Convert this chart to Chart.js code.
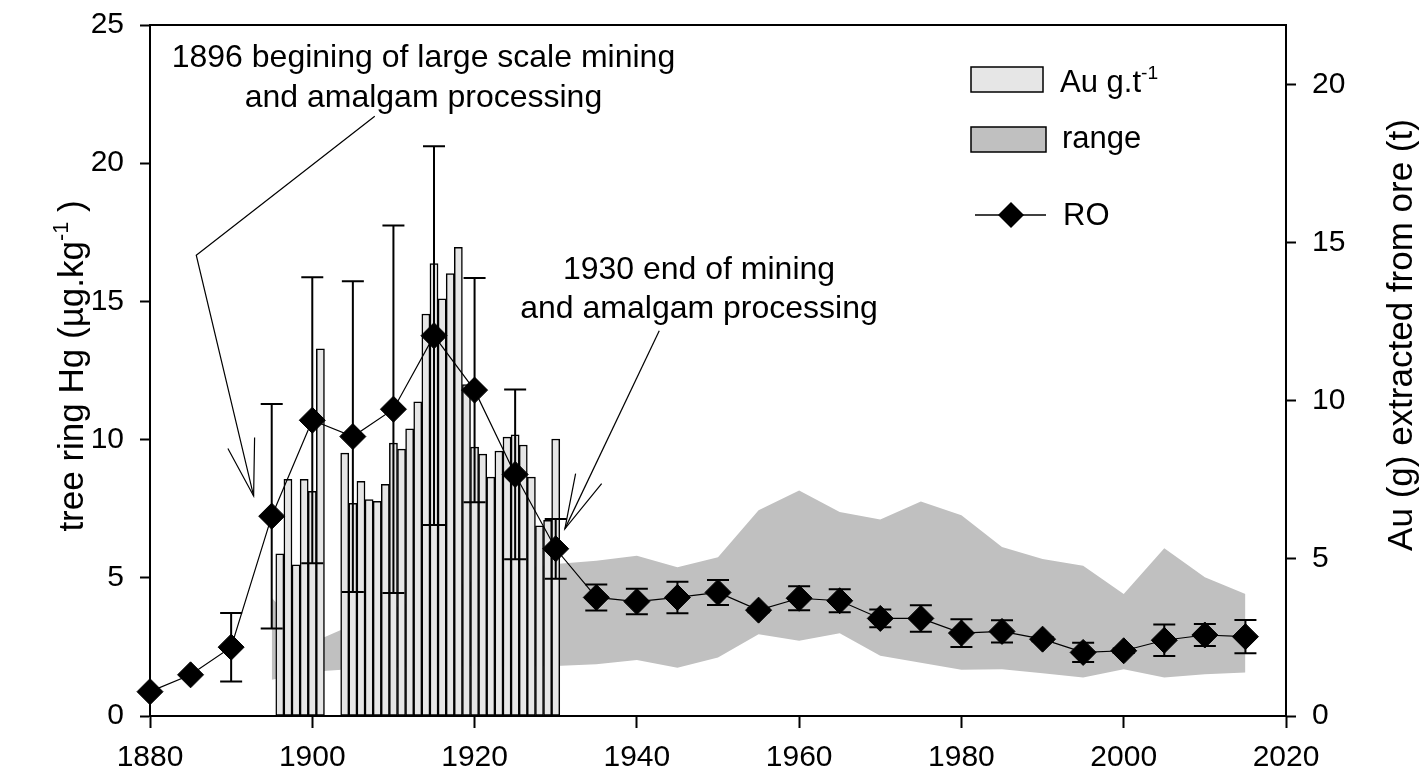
<!DOCTYPE html>
<html>
<head>
<meta charset="utf-8">
<script src="https://cdn.jsdelivr.net/npm/chart.js@4.4.1/dist/chart.umd.min.js"></script>
<style>
  html, body { margin: 0; padding: 0; background: #fff; }
  #wrap { width: 1427px; height: 777px; }
</style>
</head>
<body>
<div id="wrap"><canvas id="c"></canvas></div>
<script>
// tree ring Hg (RO), 5-year means and sd
const roYears = [1880, 1885, 1890, 1895, 1900, 1905, 1910, 1915, 1920, 1925, 1930, 1935, 1940, 1945,
  1950, 1955, 1960, 1965, 1970, 1975, 1980, 1985, 1990, 1995, 2000, 2005, 2010, 2015];
const roValues = [0.88, 1.49, 2.49, 7.23, 10.70, 10.11, 11.10, 13.76, 11.79, 8.74, 6.05, 4.29, 4.14, 4.29,
  4.47, 3.83, 4.26, 4.17, 3.53, 3.53, 3.00, 3.06, 2.78, 2.30, 2.36, 2.74, 2.93, 2.87];
const roErr = [0, 0, 1.24, 4.06, 5.17, 5.62, 6.65, 6.85, 4.06, 3.07, 1.08, 0.47, 0.46, 0.57,
  0.45, 0.08, 0.43, 0.42, 0.32, 0.48, 0.50, 0.40, 0.08, 0.35, 0.08, 0.57, 0.40, 0.60];

// Au g/t extracted from ore, yearly
const auYears = [1896, 1897, 1898, 1899, 1900, 1901, 1904, 1905, 1906, 1907, 1908, 1909, 1910, 1911,
  1912, 1913, 1914, 1915, 1916, 1917, 1918, 1919, 1920, 1921, 1922, 1923, 1924, 1925, 1926, 1927,
  1928, 1929, 1930];
const auValues = [5.14, 7.50, 4.79, 7.50, 7.12, 11.64, 8.33, 6.74, 7.44, 6.86, 6.80, 7.34, 8.65, 8.46,
  9.10, 9.96, 12.74, 14.34, 13.22, 14.02, 14.85, 10.50, 8.52, 8.30, 7.57, 8.40, 8.84, 8.91, 8.59, 7.57,
  6.03, 6.20, 8.78];

// range of tree ring Hg
const rangeYears = [1895, 1900, 1905, 1910, 1915, 1920, 1925, 1930, 1935, 1940, 1945, 1950, 1955,
  1960, 1965, 1970, 1975, 1980, 1985, 1990, 1995, 2000, 2005, 2010, 2015];
const rangeLow = [1.31, 1.60, 1.70, 1.75, 1.80, 1.80, 1.80, 1.81, 1.87, 2.03, 1.75, 2.12, 2.96,
  2.72, 2.99, 2.18, 1.93, 1.67, 1.69, 1.55, 1.39, 1.69, 1.39, 1.51, 1.57];
const rangeHigh = [4.28, 2.66, 3.30, 3.90, 4.40, 4.90, 5.30, 5.50, 5.62, 5.80, 5.38, 5.74, 7.44,
  8.16, 7.38, 7.11, 7.76, 7.26, 6.11, 5.68, 5.44, 4.41, 6.07, 5.02, 4.41];

const xTickStep = 20;
const yLeftTicks = [0, 5, 10, 15, 20, 25];
const yRightTicks = [0, 5, 10, 15, 20];

const FONT = '"Liberation Sans", Arial, sans-serif';
Chart.defaults.font.family = FONT;
Chart.defaults.color = '#000';

const pts = (xs, ys) => xs.map((x, i) => ({ x: x, y: ys[i] }));

// draws text with a raised "-1" part
function richText(ctx, parts, x, y, size, align) {
  const widths = parts.map(p => {
    ctx.font = (p.sup ? size * 0.62 : size) + 'px ' + FONT;
    return ctx.measureText(p.t).width;
  });
  const total = widths.reduce((a, b) => a + b, 0);
  let cx = align === 'center' ? x - total / 2 : x;
  ctx.textAlign = 'left';
  ctx.textBaseline = 'alphabetic';
  parts.forEach((p, i) => {
    ctx.font = (p.sup ? size * 0.62 : size) + 'px ' + FONT;
    ctx.fillText(p.t, cx, p.sup ? y - size * 0.42 : y);
    cx += widths[i];
  });
}

const errorBars = {
  id: 'errorBars',
  beforeDatasetDraw(chart, args) {
    if (args.index !== 3) return;
    const xs = chart.scales.x, ys = chart.scales.y, ctx = chart.ctx;
    ctx.save();
    ctx.strokeStyle = '#000';
    ctx.lineWidth = 2;
    roYears.forEach((yr, i) => {
      const e = roErr[i];
      if (!e) return;
      const px = xs.getPixelForValue(yr);
      const top = ys.getPixelForValue(roValues[i] + e);
      const bot = ys.getPixelForValue(roValues[i] - e);
      ctx.beginPath();
      ctx.moveTo(px, top); ctx.lineTo(px, bot);
      ctx.moveTo(px - 11, top); ctx.lineTo(px + 11, top);
      ctx.moveTo(px - 11, bot); ctx.lineTo(px + 11, bot);
      ctx.stroke();
    });
    ctx.restore();
  }
};

const decorations = {
  id: 'decorations',
  afterDraw(chart) {
    const ctx = chart.ctx, a = chart.chartArea;
    const xs = chart.scales.x, ys = chart.scales.y;
    const P = (x, y) => [xs.getPixelForValue(x), ys.getPixelForValue(y)];
    ctx.save();

    // top frame
    ctx.strokeStyle = '#000';
    ctx.lineWidth = 2;
    ctx.beginPath();
    ctx.moveTo(a.left, a.top); ctx.lineTo(a.right, a.top);
    ctx.stroke();

    // arrows
    ctx.lineWidth = 1.2;
    const poly = list => {
      ctx.beginPath();
      list.forEach((p, i) => { const q = P(p[0], p[1]); i ? ctx.lineTo(q[0], q[1]) : ctx.moveTo(q[0], q[1]); });
      ctx.stroke();
    };
    poly([[1907.7, 21.70], [1885.7, 16.67], [1892.77, 7.96]]);
    poly([[1889.6, 9.68], [1892.77, 7.96], [1892.89, 10.08]]);
    poly([[1942.76, 13.94], [1931.13, 6.77]]);
    poly([[1932.45, 8.77], [1931.13, 6.77], [1935.66, 8.41]]);

    // annotation text
    ctx.fillStyle = '#000';
    ctx.textAlign = 'center';
    ctx.textBaseline = 'alphabetic';
    ctx.font = '32px ' + FONT;
    let q = P(1913.7, 23.48);
    ctx.fillText('1896 begining of large scale mining', q[0], q[1]);
    q = P(1913.7, 22.02);
    ctx.fillText('and amalgam processing', q[0], q[1]);
    q = P(1947.66, 15.82);
    ctx.fillText('1930 end of mining', q[0], q[1]);
    q = P(1947.66, 14.40);
    ctx.fillText('and amalgam processing', q[0], q[1]);

    // axis titles
    ctx.save();
    ctx.translate(72, 366);
    ctx.rotate(-Math.PI / 2);
    richText(ctx, [{ t: 'tree ring Hg (\u00b5g.kg' }, { t: '-1', sup: true }, { t: ' )' }], 0, 11, 35, 'center');
    ctx.restore();
    ctx.save();
    ctx.translate(1401, 335);
    ctx.rotate(-Math.PI / 2);
    richText(ctx, [{ t: 'Au (g) extracted from ore (t)' }], 0, 11, 35, 'center');
    ctx.restore();

    // legend
    ctx.lineWidth = 1.5;
    ctx.strokeStyle = '#000';
    ctx.fillStyle = '#e6e6e6';
    ctx.fillRect(971, 67, 72, 25); ctx.strokeRect(971, 67, 72, 25);
    ctx.fillStyle = '#c0c0c0';
    ctx.fillRect(971, 127, 75, 25); ctx.strokeRect(971, 127, 75, 25);
    ctx.beginPath(); ctx.moveTo(975, 215); ctx.lineTo(1046, 215); ctx.stroke();
    ctx.fillStyle = '#000';
    ctx.beginPath();
    ctx.moveTo(998, 215); ctx.lineTo(1011, 202); ctx.lineTo(1024, 215); ctx.lineTo(1011, 228);
    ctx.closePath(); ctx.fill();
    richText(ctx, [{ t: 'Au g.t' }, { t: '-1', sup: true }], 1060, 92, 31, 'left');
    richText(ctx, [{ t: 'range' }], 1062, 148, 31, 'left');
    richText(ctx, [{ t: 'RO' }], 1063, 225, 31, 'left');
    ctx.restore();
  }
};

new Chart(document.getElementById('c'), {
  data: {
    datasets: [
      { type: 'line', label: 'rangeLow', data: pts(rangeYears, rangeLow), yAxisID: 'y',
        borderWidth: 0, pointRadius: 0, fill: false, order: 3, tension: 0 },
      { type: 'line', label: 'range', data: pts(rangeYears, rangeHigh), yAxisID: 'y',
        borderWidth: 0, pointRadius: 0, fill: '-1', backgroundColor: '#c0c0c0', order: 3, tension: 0 },
      { type: 'bar', label: 'Au g.t-1', data: pts(auYears, auValues), yAxisID: 'y1',
        backgroundColor: '#e6e6e6', borderColor: '#000', borderWidth: 1.5, borderSkipped: false,
        barPercentage: 1, categoryPercentage: 1, order: 2 },
      { type: 'line', label: 'RO', data: pts(roYears, roValues), yAxisID: 'y',
        borderColor: '#000', borderWidth: 1.2, pointStyle: 'rectRot', pointRadius: 13,
        pointBackgroundColor: '#000', pointBorderColor: '#000', pointBorderWidth: 1,
        fill: false, tension: 0, clip: false, order: 1 }
    ]
  },
  options: {
    responsive: true,
    maintainAspectRatio: false,
    animation: false,
    layout: { padding: { top: 25, left: 0, right: 0, bottom: 0 } },
    plugins: { legend: { display: false }, tooltip: { enabled: false } },
    scales: {
      x: {
        type: 'linear', min: 1880, max: 2020, offset: false,
        ticks: { stepSize: xTickStep, font: { size: 30 }, padding: 12, color: '#000',
          callback: v => String(v) },
        grid: { offset: false, drawOnChartArea: false, tickLength: 12, tickColor: '#000', tickWidth: 2 },
        border: { color: '#000', width: 2 },
        afterFit: s => { s.height = 61; }
      },
      y: {
        position: 'left', min: 0, max: 25,
        afterBuildTicks: s => { s.ticks = yLeftTicks.map(v => ({ value: v })); },
        ticks: { font: { size: 30, lineHeight: 0.5 }, padding: 16, color: '#000' },
        grid: { drawOnChartArea: false, tickLength: 10, tickColor: '#000', tickWidth: 2 },
        border: { color: '#000', width: 2 },
        afterFit: s => { s.width = 150; }
      },
      y1: {
        position: 'right', min: 0, max: 21.9,
        afterBuildTicks: s => { s.ticks = yRightTicks.map(v => ({ value: v })); },
        ticks: { font: { size: 30, lineHeight: 0.5 }, padding: 16, color: '#000' },
        grid: { drawOnChartArea: false, tickLength: 10, tickColor: '#000', tickWidth: 2 },
        border: { color: '#000', width: 2 },
        afterFit: s => { s.width = 141; }
      }
    }
  },
  plugins: [errorBars, decorations]
});
</script>
</body>
</html>
